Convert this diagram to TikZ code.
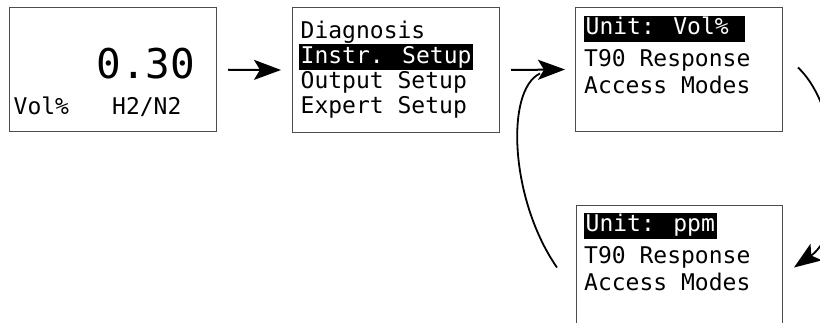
\documentclass[tikz,border=0pt]{standalone}
\usepackage{fontspec}
\newfontfamily\lcdfont{DejaVu Sans Mono}[WordSpace={1,0,0}]
\usetikzlibrary{arrows.meta}
\begin{document}
\begin{tikzpicture}[x=1pt,y=-1pt,
  screen/.style={draw=black!70, line width=1pt, inner sep=0pt, anchor=north west},
  txt/.style={font=\lcdfont\fontsize{23}{23}\selectfont, inner sep=0pt, anchor=base west},
  big/.style={font=\lcdfont\fontsize{41}{41}\selectfont, inner sep=0pt, anchor=base east},
  hl/.style={txt, fill=black, text=white, inner xsep=2pt, inner ysep=2pt, text height=17pt, text depth=5pt},
  tip/.style={-{Stealth[length=27pt,width=20pt,inset=6pt]}},
  flow/.style={line width=2pt, tip},
  loopline/.style={line width=1.8pt}]
\useasboundingbox (0,0) rectangle (820,323);
\clip (0,0) rectangle (820,323);

% screens
\node[screen, minimum width=207pt, minimum height=123.5pt] (s1) at (9,7.5) {};
\node[screen, minimum width=207pt, minimum height=125pt] (s2) at (292,7) {};
\node[screen, minimum width=207pt, minimum height=124pt] (s3) at (575,7) {};
\node[screen, minimum width=206pt, minimum height=124pt] (s4) at (576,205) {};

% screen 1
\node[big] (v1) at (195.5,79) {0.30};
\node[txt] (u1) at (13.5,115) {Vol\%};
\node[txt] (g1) at (112,115) {H2/N2};

% screen 2
\node[txt] (m1) at (300.5,38.5) {Diagnosis};
\node[hl]  (m2) at (298.5,63.5) {Instr. Setup};
\node[txt] (m3) at (300.5,88.5) {Output Setup};
\node[txt] (m4) at (300.5,113.5) {Expert Setup};

% screen 3
\node[hl]  (a1) at (583.5,35) {Unit: Vol\%~~};
\node[txt] (a2) at (584,66.5) {T90 Response};
\node[txt] (a3) at (584,93.5) {Access Modes};

% screen 4
\node[hl]  (b1) at (583.5,232) {Unit: ppm};
\node[txt] (b2) at (584,263.5) {T90 Response};
\node[txt] (b3) at (584,291) {Access Modes};

% connectors
\draw[flow] ([xshift=11pt]s1.east) -- ([xshift=-11pt]s2.west);
\draw[flow] ([xshift=11pt]s2.east) -- ([xshift=-10pt]s3.west);
\draw[loopline] ([xshift=-19pt]s4.west) .. controls (510,200) and (505,90) .. ([xshift=-35pt,yshift=-4pt]s3.west);
\draw[loopline, tip] ([xshift=15pt,yshift=2pt]s3.east) .. controls (843,110) and (848,230) .. ([xshift=11pt]s4.east);
\end{tikzpicture}
\end{document}
